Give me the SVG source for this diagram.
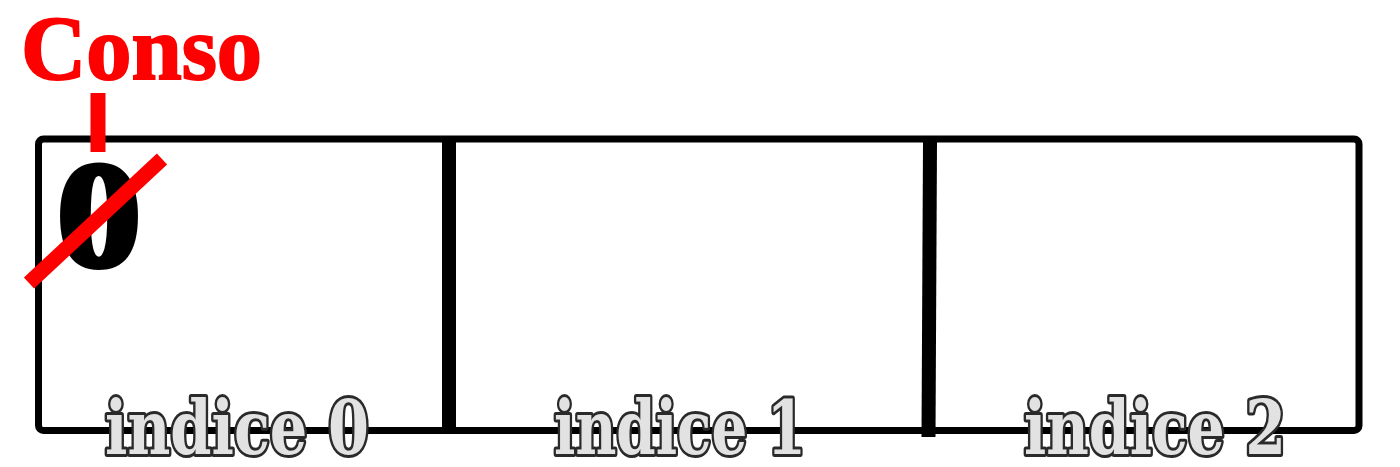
<svg xmlns="http://www.w3.org/2000/svg" width="1400" height="467" viewBox="0 0 1400 467">
<style>
.frame{fill:none;stroke:#000;stroke-width:7;stroke-linejoin:round}
.div{stroke:#000;stroke-width:14;stroke-linecap:butt}
.red{stroke:#ff0000;stroke-width:15;stroke-linecap:butt}
.lbl{font-family:"DejaVu Serif","Liberation Serif",serif;font-weight:bold;font-size:74px;fill:#e2e2e2;stroke:#2a2a2a;stroke-width:6;stroke-linejoin:round;paint-order:stroke}
.conso{font-family:"Liberation Serif",serif;font-weight:bold;font-size:92px;fill:#ff0000;stroke:#ff0000;stroke-width:2}
.zero{font-family:"Liberation Serif",serif;font-weight:bold;font-size:150px;fill:#000;stroke:#000;stroke-width:6}
</style>
<rect id="background" x="0" y="0" width="1400" height="467" fill="#fff"/>
<g id="array">
  <rect class="frame" x="38.5" y="139" width="1320.5" height="291.5" rx="5"/>
</g>
<g id="cell0">
  <line class="div" x1="449" y1="142" x2="449" y2="428"/>
  <text class="zero" x="57" y="266" textLength="84" lengthAdjust="spacingAndGlyphs">0</text>
  <text class="lbl" x="105" y="454" textLength="264" lengthAdjust="spacingAndGlyphs">indice 0</text>
</g>
<g id="cell1">
  <line class="div" x1="930" y1="142" x2="928.5" y2="437"/>
  <text class="lbl" x="554" y="454" textLength="252" lengthAdjust="spacingAndGlyphs">indice 1</text>
</g>
<g id="cell2">
  <text class="lbl" x="1024" y="454" textLength="262" lengthAdjust="spacingAndGlyphs">indice 2</text>
</g>
<g id="conso">
  <text class="conso" x="21" y="79" textLength="241" lengthAdjust="spacingAndGlyphs">Conso</text>
</g>
<g id="connectors">
  <line class="red" x1="98" y1="93" x2="98" y2="152"/>
  <line class="red" x1="29" y1="283" x2="162" y2="159"/>
</g>
</svg>
